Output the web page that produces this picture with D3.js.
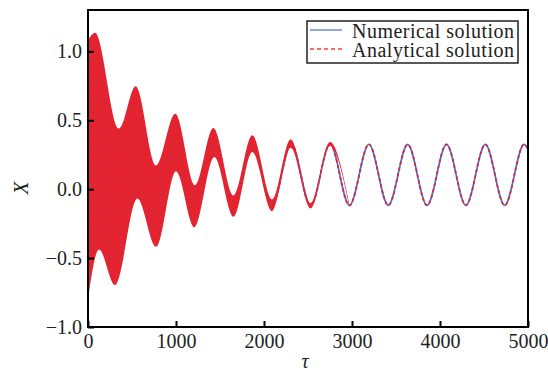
<!DOCTYPE html>
<html>
<head>
<meta charset="utf-8">
<script src="https://cdn.jsdelivr.net/npm/d3@7"></script>
<style>
  html, body { margin: 0; padding: 0; background: #fff; }
  svg { display: block; }
  text { font-family: "Liberation Serif", "Times New Roman", serif; fill: #222; }
</style>
</head>
<body>
<svg id="chart" width="548" height="372"></svg>
<script>
// ---- data ----
// steady slow oscillation (numerical / analytical, center of the band)
const centerTau = [0, 105, 325, 546, 766, 987, 1207, 1428, 1648, 1869, 2089, 2310, 2530, 2751, 2971, 3192, 3412, 3633, 3853, 4074, 4294, 4515, 4735, 4956, 5000];
const centerX   = [0.12, 0.33, -0.12, 0.33, -0.12, 0.33, -0.12, 0.33, -0.12, 0.33, -0.12, 0.33, -0.12, 0.328, -0.118, 0.326, -0.117, 0.325, -0.117, 0.325, -0.117, 0.325, -0.117, 0.325, 0.29];
// envelope of the fast decaying oscillation (filled band)
const upperTau = [0, 80, 352, 542, 773, 992, 1214, 1424, 1652, 1867, 2092, 2303, 2530, 2750, 2971];
const upperX   = [1.08, 1.135, 0.44, 0.746, 0.172, 0.548, 0.029, 0.444, -0.045, 0.391, -0.075, 0.362, -0.100, 0.343, -0.108];
const lowerTau = [0, 125, 307, 561, 773, 1000, 1208, 1436, 1652, 1867, 2092, 2303, 2530, 2750, 2971];
const lowerX   = [-0.80, -0.437, -0.696, -0.068, -0.418, 0.130, -0.278, 0.234, -0.20, 0.27, -0.16, 0.300, -0.140, 0.313, -0.126];
const xTicks = [0, 1000, 2000, 3000, 4000, 5000];
const yTicks = [-1.0, -0.5, 0.0, 0.5, 1.0];
const seriesNames = ["Numerical solution", "Analytical solution"];

// ---- layout ----
const svg = d3.select("#chart");
const L = 88, R = 528, T = 10, B = 327;
const x = d3.scaleLinear().domain([0, 5000]).range([L, R]);
const y = d3.scaleLinear().domain([-1.0, 1.3]).range([B, T]);

const RED = "#ec1f26", BLUE = "#4a6fd6";

const defs = svg.append("defs");
const pat = defs.append("pattern").attr("id", "speck").attr("patternUnits", "userSpaceOnUse")
  .attr("width", 5).attr("height", 4);
pat.append("rect").attr("width", 5).attr("height", 4).attr("fill", RED);
pat.append("circle").attr("cx", 1).attr("cy", 1).attr("r", 0.7).attr("fill", BLUE).attr("opacity", 0.55);
pat.append("circle").attr("cx", 3.5).attr("cy", 3).attr("r", 0.6).attr("fill", BLUE).attr("opacity", 0.4);

defs.append("clipPath").attr("id", "plotclip").append("rect")
  .attr("x", L).attr("y", T).attr("width", R - L).attr("height", B - T);

const lowerPts = lowerTau.map((t, i) => [t, lowerX[i]]);
const upperPts = upperTau.map((t, i) => [t, upperX[i]]);
const centerPts = centerTau.map((t, i) => [t, centerX[i]]);

// region above lower envelope as clip
defs.append("clipPath").attr("id", "aboveLower").append("path")
  .attr("d", d3.area().curve(d3.curveMonotoneX)
    .x(d => x(d[0])).y0(T - 5).y1(d => y(d[1]))(lowerPts));

const plot = svg.append("g").attr("clip-path", "url(#plotclip)");

// center line: numerical (solid blue) + analytical (dashed red)
const line = d3.line().curve(d3.curveMonotoneX).x(d => x(d[0])).y(d => y(d[1]));
plot.append("path").attr("d", line(centerPts)).attr("fill", "none")
  .attr("stroke", BLUE).attr("stroke-width", 1.7);
plot.append("path").attr("d", line(centerPts)).attr("fill", "none")
  .attr("stroke", RED).attr("stroke-width", 1.7).attr("stroke-dasharray", "3,3");

// band: below upper envelope, clipped to above lower envelope
plot.append("g").attr("clip-path", "url(#aboveLower)")
  .append("path")
  .attr("d", d3.area().curve(d3.curveMonotoneX)
    .x(d => x(d[0])).y0(B + 5).y1(d => y(d[1]))(upperPts))
  .attr("fill", "url(#speck)");

// ---- axes ----
const gx = svg.append("g").attr("transform", `translate(0,${B})`)
  .call(d3.axisBottom(x).tickValues(xTicks).tickFormat(d3.format("d")).tickSize(-6).tickPadding(5));
const gy = svg.append("g").attr("transform", `translate(${L},0)`)
  .call(d3.axisLeft(y).tickValues(yTicks).tickFormat(d3.format(".1f")).tickSize(-6).tickPadding(6));
[gx, gy].forEach(g => {
  g.select(".domain").remove();
  g.selectAll(".tick line").attr("stroke", "#000").attr("stroke-width", 2);
  g.selectAll(".tick text").attr("font-size", 20).attr("fill", "#222")
    .attr("font-family", "Liberation Serif, serif");
});
gx.selectAll(".tick text").attr("dy", "0.78em");
gy.selectAll(".tick text").attr("dy", "0.33em");

// frame
svg.append("rect").attr("x", L).attr("y", T).attr("width", R - L).attr("height", B - T)
  .attr("fill", "none").attr("stroke", "#000").attr("stroke-width", 2);

// axis labels
svg.append("text").attr("x", 305).attr("y", 368).attr("text-anchor", "middle")
  .attr("font-size", 20).attr("font-style", "italic").text("τ");
svg.append("text").attr("transform", "translate(28,188) rotate(-90)").attr("text-anchor", "middle")
  .attr("font-size", 21).attr("font-style", "italic").text("X");

// legend
const lg = svg.append("g");
lg.append("rect").attr("x", 307).attr("y", 21).attr("width", 211).attr("height", 42)
  .attr("fill", "#fff").attr("stroke", "#222").attr("stroke-width", 1.5);
lg.append("line").attr("x1", 310).attr("x2", 342).attr("y1", 30).attr("y2", 30)
  .attr("stroke", "#6d8ad8").attr("stroke-width", 1.5);
lg.append("line").attr("x1", 310).attr("x2", 342).attr("y1", 49).attr("y2", 49)
  .attr("stroke", "#ff3b30").attr("stroke-width", 1.3).attr("stroke-dasharray", "4,3");
lg.append("text").attr("x", 352).attr("y", 38).attr("font-size", 20).attr("textLength", 162).text(seriesNames[0]);
lg.append("text").attr("x", 352).attr("y", 57).attr("font-size", 20).attr("textLength", 162).text(seriesNames[1]);
</script>
</body>
</html>
